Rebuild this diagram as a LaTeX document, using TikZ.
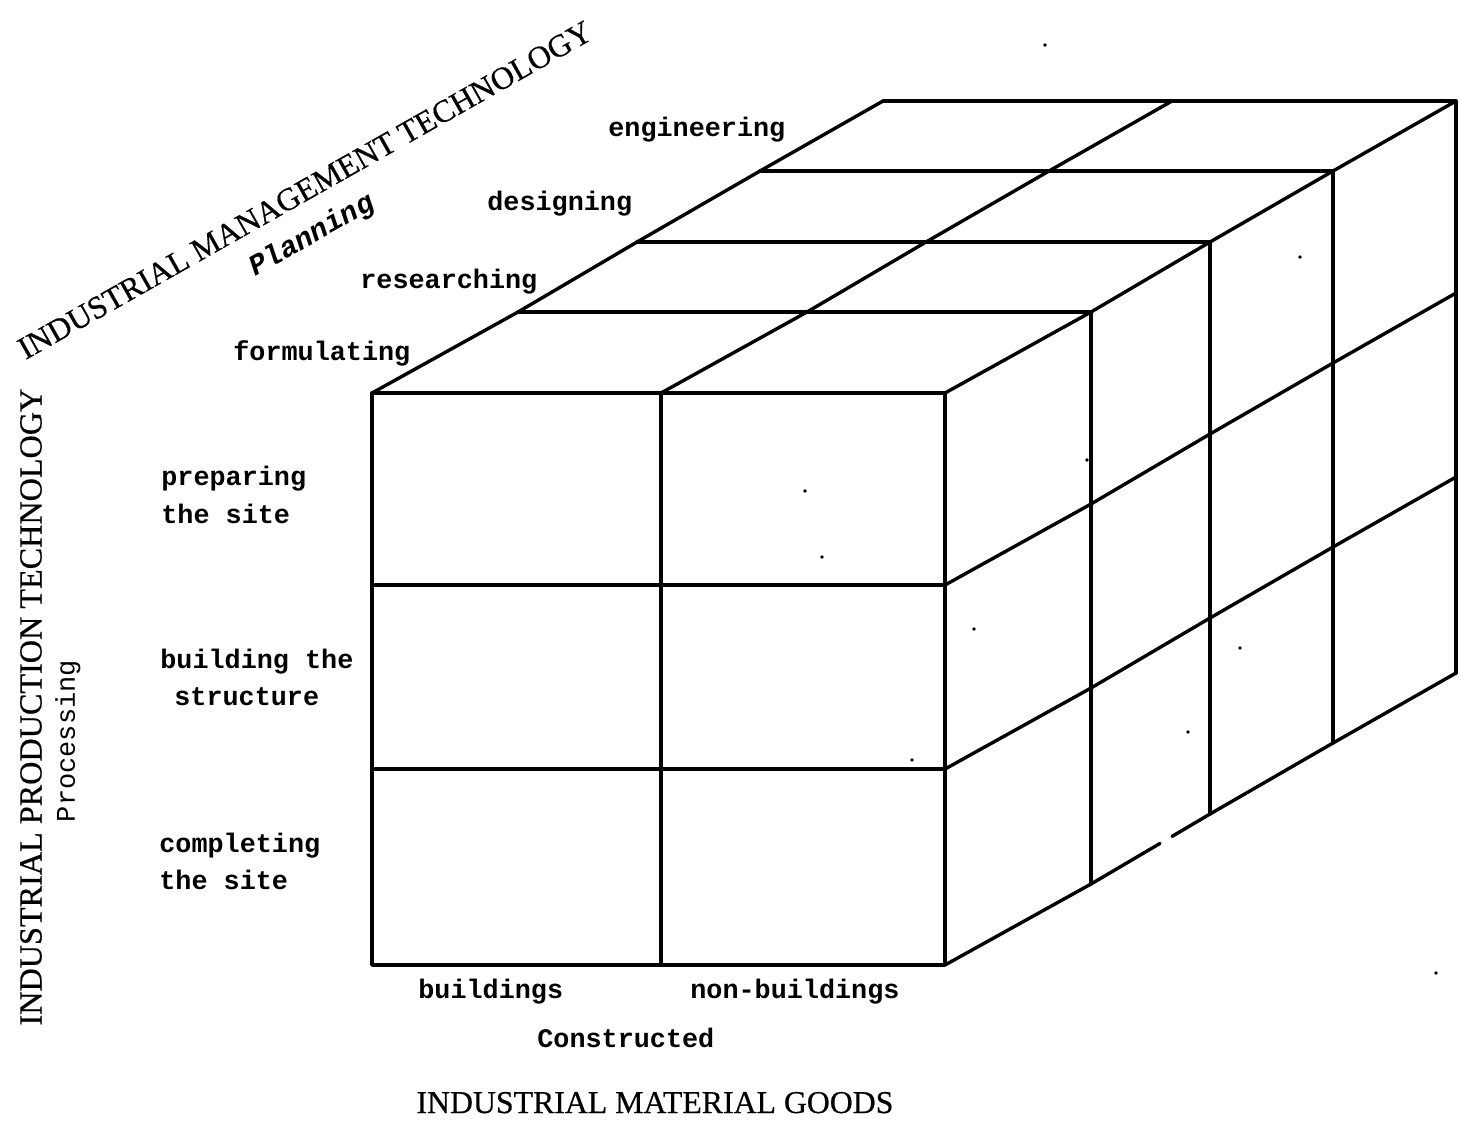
\documentclass[tikz,border=0pt]{standalone}
\usepackage{fontspec}
\setmainfont{Liberation Serif}
\newfontfamily\capsfont[FakeBold=0.5]{Liberation Serif}
\newfontfamily\twfont{Liberation Mono}
\begin{document}
\begin{tikzpicture}[x=0.5pt,y=-0.5pt,
  edge/.style={line width=1.7pt, line cap=round, line join=round},
  lbl/.style={font=\twfont\bfseries\fontsize{13.4}{16}\selectfont, inner sep=0pt, anchor=base west},
  caps/.style={font=\capsfont\fontsize{15.9}{19}\selectfont, inner sep=0pt},
  speck/.style={fill=black, draw=none}]
\useasboundingbox (0,0) rectangle (1461,1121);

% ---- front face ----
\coordinate (FTL) at (372,393);
\coordinate (FBR) at (945,965);
\draw[edge] (FTL) rectangle (FBR);
\draw[edge] (661,393) -- (661,965);
\draw[edge] (372,585) -- (945,585);
\draw[edge] (372,769) -- (945,769);

% ---- top face: lines across, one per depth layer ----
\foreach \dx/\dy in {146/81,265/151,388/222,511/292}{
  \draw[edge] (372+\dx,393-\dy) -- (945+\dx,393-\dy);
}
% ---- top face: depth lines ----
\foreach \x in {372,661,945}{
  \draw[edge] (\x,393) -- (\x+146,312) -- (\x+265,242) -- (\x+388,171) -- (\x+511,101);
}
% ---- right face: verticals ----
\foreach \dx/\dy in {146/81,265/151,388/222,511/292}{
  \draw[edge] (945+\dx,393-\dy) -- (945+\dx,965-\dy);
}
% ---- right face: depth lines ----
\foreach \y in {585,769}{
  \draw[edge] (945,\y) -- (1091,\y-81) -- (1210,\y-151) -- (1333,\y-222) -- (1456,\y-292);
}
\coordinate (BR0) at (945,965);
\coordinate (BR4) at (1456,673);
\draw[edge] (BR0) -- (1091,884) -- (1160,843.4);
\draw[edge] (1172,836.4) -- (1210,814) -- (1333,743) -- (BR4);

% ---- specks ----
\foreach \p in {(805,491),(822,557),(974,629),(1087,460),(1240,648),(1188,732),(912,760),(1300,257),(1436,973),(1045,45)}{
  \fill[speck] \p circle (1.8);
}

% ---- depth labels ----
\node[lbl] (eng) at (608,136) {engineering};
\node[lbl] (des) at (487,210) {designing};
\node[lbl] (res) at (360,288) {researching};
\node[lbl] (form) at (233,360) {formulating};

% ---- row labels ----
\node[lbl] (prepA) at (161,485) {preparing};
\node[lbl] (prepB) at (161,523) {the site};
\node[lbl] (buildA) at (160,668) {building the};
\node[lbl] (buildB) at (174,705) {structure};
\node[lbl] (compA) at (159,852) {completing};
\node[lbl] (compB) at (159,889) {the site};

% ---- column labels ----
\node[lbl] (bld) at (418,998) {buildings};
\node[lbl] (nonbld) at (690,998) {non-buildings};
\node[lbl] (cons) at (537,1047) {Constructed};
\node[caps, anchor=base] (goods) at (655,1113) {INDUSTRIAL MATERIAL GOODS};

% ---- axis titles ----
\node[caps, font=\capsfont\fontsize{16.1}{19}\selectfont, rotate=90] (prod) at (31,707) {INDUSTRIAL PRODUCTION TECHNOLOGY};
\node[font=\twfont\fontsize{13.5}{16}\selectfont, inner sep=0pt, rotate=90] (proc) at (68,741) {Processing};
\node[caps, rotate=29.5] (mgmt) at (305,190) {INDUSTRIAL MANAGEMENT TECHNOLOGY};
\node[font=\twfont\bfseries\itshape\fontsize{14.5}{16}\selectfont, inner sep=0pt, rotate=29.5] (plan) at (312,236) {Planning};
\end{tikzpicture}
\end{document}
